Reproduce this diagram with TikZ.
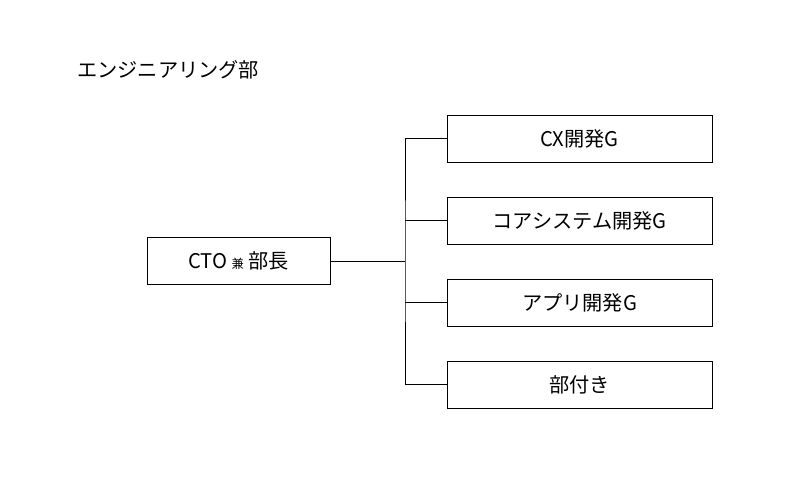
\documentclass[tikz,border=0pt]{standalone}
\usepackage{fontspec}
\setmainfont{Noto Sans CJK JP}
\usetikzlibrary{calc}

\tikzset{
  unit/.style={draw, line width=0.5pt, minimum width=5.3cm, minimum height=0.94cm, inner sep=0pt, font=\fontsize{11.5}{13}\selectfont},
  link/.style={line width=0.5pt}
}

\begin{document}
\begin{tikzpicture}[x=0.02cm, y=-0.02cm]

\useasboundingbox (0,0) rectangle (807,481);

\node[right, font=\fontsize{11.5}{13}\selectfont, inner sep=0pt] (title) at (77, 70) {エンジニアリング部};

\node[unit, minimum width=3.66cm] (head) at (238.5, 261) {CTO {\fontsize{7}{8}\selectfont 兼} 部長};

\node[unit] (1) at (579.5, 138.5) {CX開発G};
\node[unit] (2) at (579.5, 220.5) {コアシステム開発G};
\node[unit] (3) at (579.5, 302.5) {アプリ開発G};
\node[unit] (4) at (579.5, 384.5) {部付き};

\coordinate (trunk) at (405, 261);

\draw[link] (head.east) -- (trunk);
\draw[link] (1.west) -| (trunk) |- (4.west);
\draw[link] (2.west) -- (2.west -| trunk);
\draw[link] (3.west) -- (3.west -| trunk);

\end{tikzpicture}
\end{document}
